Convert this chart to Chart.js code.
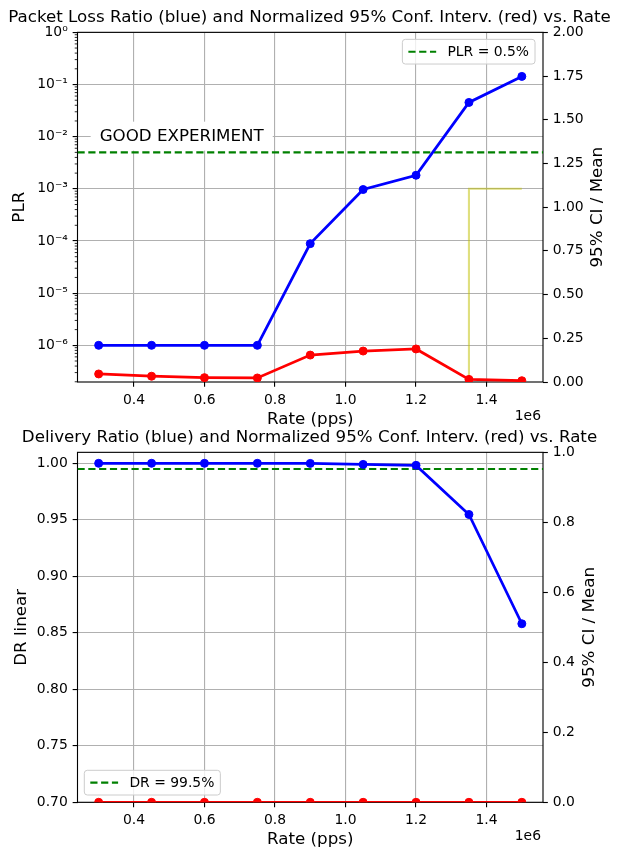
<!DOCTYPE html>
<html><head><meta charset="utf-8">
<script src="https://cdn.jsdelivr.net/npm/chart.js@4.4.1/dist/chart.umd.min.js"></script>
<style>
html,body{margin:0;padding:0;background:#fff;width:619px;height:859px;overflow:hidden;}
canvas{position:absolute;left:0;}
#c1{top:0;}
#c2{top:415px;}
</style></head><body>
<canvas id="c1" width="619" height="430"></canvas>
<canvas id="c2" width="619" height="444"></canvas>
<script>
// ---------- data ----------
const rates   = [0.3e6, 0.45e6, 0.6e6, 0.75e6, 0.9e6, 1.05e6, 1.2e6, 1.35e6, 1.5e6];
const plr     = [1e-6, 1e-6, 1e-6, 1e-6, 8.9e-5, 9.7e-4, 1.82e-3, 0.0453, 0.143];
const plrCi   = [0.046, 0.033, 0.025, 0.023, 0.154, 0.177, 0.189, 0.015, 0.0074];
const dr      = [1.0, 1.0, 1.0, 1.0, 0.99991, 0.99903, 0.99818, 0.9547, 0.858];
const drCi    = [0, 0, 0, 0, 0, 0, 0, 0, 0];
const plrThreshold = 0.005;
const drThreshold  = 0.995;
const stepX = [1.35e6, 1.35e6, 1.5e6];
const stepY = [2e-7, 1e-3, 1e-3];
const xRange = [0.24e6, 1.56e6];
const xTicks = [0.4e6, 0.6e6, 0.8e6, 1.0e6, 1.2e6, 1.4e6];
const plrRange = [1.98e-7, 1];
const plrTicks = [1e-6, 1e-5, 1e-4, 1e-3, 1e-2, 1e-1, 1];
const plrCiTicks = [0, 0.25, 0.5, 0.75, 1.0, 1.25, 1.5, 1.75, 2.0];
const drRange = [0.70, 1.0097];
const drTicks = [0.70, 0.75, 0.80, 0.85, 0.90, 0.95, 1.00];
const drCiTicks = [0, 0.2, 0.4, 0.6, 0.8, 1.0];
const title1 = 'Packet Loss Ratio (blue) and Normalized 95% Conf. Interv. (red) vs. Rate';
const title2 = 'Delivery Ratio (blue) and Normalized 95% Conf. Interv. (red) vs. Rate';
const annotationText = 'GOOD EXPERIMENT';
const annotationAt = [0.3e6, 0.01];

Chart.defaults.font.family = "'DejaVu Sans', sans-serif";
Chart.defaults.color = '#000';
Chart.defaults.animation = false;

const PT = 100/72;
const TICK = 13.9, LABEL = 16.7;
const sup = {'0':'⁰','1':'¹','2':'²','3':'³','4':'⁴','5':'⁵','6':'⁶','7':'⁷','8':'⁸','9':'⁹','-':'⁻'};
function logLabel(v){ const e = Math.round(Math.log10(v)); return '10' + String(e).split('').map(c=>sup[c]).join(''); }
const pts = (xs, ys) => xs.map((x,i)=>({x, y: ys[i]}));
const setTicks = arr => (scale) => { scale.ticks = arr.map(v=>({value:v})); };

const extras = {
  id: 'extras',
  beforeDatasetsDraw(chart, args, o) {
    const ctx = chart.ctx, a = chart.chartArea;
    ctx.save();
    ctx.strokeStyle = '#000'; ctx.lineWidth = 0.8*PT;
    ctx.strokeRect(a.left, a.top, a.right - a.left, a.bottom - a.top);
    ctx.restore();
  },
  afterDatasetsDraw(chart, args, o) {
    const ctx = chart.ctx;
    if (o.annotation) {
      const an = o.annotation;
      const px = chart.scales.x.getPixelForValue(an.at[0]);
      const py = chart.scales[an.axis].getPixelForValue(an.at[1]);
      ctx.save();
      ctx.font = LABEL + "px 'DejaVu Sans'";
      const w = ctx.measureText(an.text).width;
      ctx.fillStyle = '#fff';
      ctx.fillRect(px - 8, py - 15, w + 18, 29);
      ctx.fillStyle = '#000';
      ctx.textBaseline = 'middle';
      ctx.textAlign = 'left';
      ctx.fillText(an.text, px + 1, py - 0.5);
      ctx.restore();
    }
  },
  afterDraw(chart, args, o) {
    const ctx = chart.ctx, a = chart.chartArea;
    ctx.save();
    // minor log ticks
    if (o.minorLog) {
      const s = chart.scales[o.minorLog];
      ctx.strokeStyle = '#000'; ctx.lineWidth = 0.6*PT;
      for (let k = -8; k < 1; k++) for (let m = 2; m < 10; m++) {
        const v = m * Math.pow(10, k);
        if (v < s.min || v > s.max) continue;
        const y = s.getPixelForValue(v);
        ctx.beginPath(); ctx.moveTo(a.left - 2*PT, y); ctx.lineTo(a.left, y); ctx.stroke();
      }
    }
    // offset text
    ctx.fillStyle = '#000';
    ctx.font = TICK + "px 'DejaVu Sans'";
    ctx.textAlign = 'right'; ctx.textBaseline = 'middle';
    ctx.fillText(o.offsetText, a.right - 2, a.bottom + 34.5);
    // right axis title
    ctx.save();
    ctx.translate(o.rightTitleX, (a.top + a.bottom)/2);
    ctx.rotate(-Math.PI/2);
    ctx.font = LABEL + "px 'DejaVu Sans'";
    ctx.textAlign = 'center'; ctx.textBaseline = 'middle';
    ctx.fillText(o.rightTitle, 0, 0);
    ctx.restore();
    // legend
    if (o.legend) {
      const L = o.legend, ds = chart.data.datasets[L.dataset];
      ctx.font = TICK + "px 'DejaVu Sans'";
      const tw = ctx.measureText(ds.label).width;
      const bw = 6 + 27.8 + 11.3 + tw + 6, bh = 24.7;
      let bx, by;
      if (L.corner === 'upper right') { bx = a.right - 8 - bw; by = a.top + 7; }
      else { bx = a.left + 6.8; by = a.bottom - 7.3 - bh; }
      ctx.beginPath();
      ctx.roundRect(bx, by, bw, bh, 3);
      ctx.fillStyle = 'rgba(255,255,255,0.8)'; ctx.fill();
      ctx.strokeStyle = '#cccccc'; ctx.lineWidth = 1; ctx.stroke();
      const cy = by + bh/2;
      ctx.beginPath();
      ctx.setLineDash(ds.borderDash || []);
      ctx.strokeStyle = ds.borderColor; ctx.lineWidth = ds.borderWidth;
      ctx.moveTo(bx + 6, cy); ctx.lineTo(bx + 6 + 27.8, cy); ctx.stroke();
      ctx.setLineDash([]);
      ctx.fillStyle = '#000'; ctx.textAlign = 'left'; ctx.textBaseline = 'middle';
      ctx.fillText(ds.label, bx + 6 + 27.8 + 11.3, cy + 0.5);
    }
    ctx.restore();
  }
};

const gridColor = '#b0b0b0';
function xAxis(height, titlePadBottom) {
  return {
    type: 'linear', position: 'bottom', min: xRange[0], max: xRange[1],
    afterBuildTicks: setTicks(xTicks),
    afterFit: s => { s.height = height; },
    border: { display: false },
    grid: { color: gridColor, lineWidth: 0.8*PT, tickColor: '#000', tickLength: 3.5*PT, tickWidth: 0.8*PT },
    ticks: { font: { size: TICK }, padding: 3.5*PT, maxRotation: 0, autoSkip: false,
             callback: v => (v/1e6).toFixed(1) },
    title: { display: true, text: 'Rate (pps)', font: { size: LABEL }, padding: { top: 0, bottom: titlePadBottom } }
  };
}
function rightAxis(range, ticks, digits) {
  return {
    type: 'linear', position: 'right', min: range[0], max: range[1],
    afterBuildTicks: setTicks(ticks),
    afterFit: s => { s.width = 76; },
    border: { display: false },
    grid: { drawOnChartArea: false, color: '#000', tickColor: '#000', tickLength: 3.5*PT, tickWidth: 0.8*PT },
    ticks: { font: { size: TICK }, padding: 3.5*PT, autoSkip: false, callback: v => v.toFixed(digits) }
  };
}
function lineDs(label, xs, ys, color, axis, order) {
  return { label, data: pts(xs, ys), yAxisID: axis, borderColor: color, backgroundColor: color,
           borderWidth: 2*PT, pointRadius: 4, pointBorderWidth: 1, pointHoverRadius: 4, tension: 0, order, clip: 0 };
}
function threshDs(label, y, axis, order) {
  return { label, data: pts(xRange, [y, y]), yAxisID: axis, borderColor: '#008000',
           borderWidth: 1.5*PT, borderDash: [7.2, 3.6], pointRadius: 0, tension: 0, order, clip: 0 };
}

new Chart(document.getElementById('c1'), {
  type: 'line',
  data: { datasets: [
    lineDs('Normalized 95% CI', rates, plrCi, '#ff0000', 'y1', 0),
    { label: 'step', data: pts(stepX, stepY), yAxisID: 'y', borderColor: 'rgba(191,191,0,0.5)',
      borderWidth: 1.5*PT, pointRadius: 0, tension: 0, order: 1, clip: 0 },
    lineDs('PLR', rates, plr, '#0000ff', 'y', 2),
    threshDs('PLR = 0.5%', plrThreshold, 'y', 3)
  ]},
  options: {
    responsive: false, devicePixelRatio: 1,
    layout: { padding: 0 },
    scales: {
      x: xAxis(48, 0),
      y: {
        type: 'logarithmic', position: 'left', min: plrRange[0], max: plrRange[1],
        afterBuildTicks: setTicks(plrTicks),
        afterFit: s => { s.width = 77.5; },
        border: { display: false },
        grid: { color: gridColor, lineWidth: 0.8*PT, tickColor: '#000', tickLength: 3.5*PT, tickWidth: 0.8*PT },
        ticks: { font: { size: TICK }, padding: 3.5*PT, autoSkip: false, callback: v => logLabel(v) },
        title: { display: true, text: 'PLR', font: { size: LABEL }, padding: { top: 10, bottom: 0 } }
      },
      y1: rightAxis([0, 2.0], plrCiTicks, 2)
    },
    plugins: {
      legend: { display: false }, tooltip: { enabled: false },
      title: { display: true, text: title1, font: { size: LABEL, weight: 'normal' }, color: '#000',
               padding: { top: 8, bottom: 4.3 } },
      extras: { minorLog: 'y', offsetText: '1e6', rightTitle: '95% CI / Mean', rightTitleX: 598,
                legend: { dataset: 3, corner: 'upper right' },
                annotation: { text: annotationText, at: annotationAt, axis: 'y' } }
    }
  },
  plugins: [extras]
});

new Chart(document.getElementById('c2'), {
  type: 'line',
  data: { datasets: [
    lineDs('Normalized 95% CI', rates, drCi, '#ff0000', 'y1', 0),
    lineDs('DR', rates, dr, '#0000ff', 'y', 1),
    threshDs('DR = 99.5%', drThreshold, 'y', 2)
  ]},
  options: {
    responsive: false, devicePixelRatio: 1,
    layout: { padding: 0 },
    scales: {
      x: xAxis(56.7, 9),
      y: {
        type: 'linear', position: 'left', min: drRange[0], max: drRange[1],
        afterBuildTicks: setTicks(drTicks),
        afterFit: s => { s.width = 77.5; },
        border: { display: false },
        grid: { color: gridColor, lineWidth: 0.8*PT, tickColor: '#000', tickLength: 3.5*PT, tickWidth: 0.8*PT },
        ticks: { font: { size: TICK }, padding: 3.5*PT, autoSkip: false, callback: v => v.toFixed(2) },
        title: { display: true, text: 'DR linear', font: { size: LABEL }, padding: { top: 12, bottom: 0 } }
      },
      y1: rightAxis([0, 1.0], drCiTicks, 1)
    },
    plugins: {
      legend: { display: false }, tooltip: { enabled: false },
      title: { display: true, text: title2, font: { size: LABEL, weight: 'normal' }, color: '#000',
               padding: { top: 13, bottom: 4.3 } },
      extras: { offsetText: '1e6', rightTitle: '95% CI / Mean', rightTitleX: 590,
                legend: { dataset: 2, corner: 'lower left' } }
    }
  },
  plugins: [extras]
});
</script>
</body></html>
